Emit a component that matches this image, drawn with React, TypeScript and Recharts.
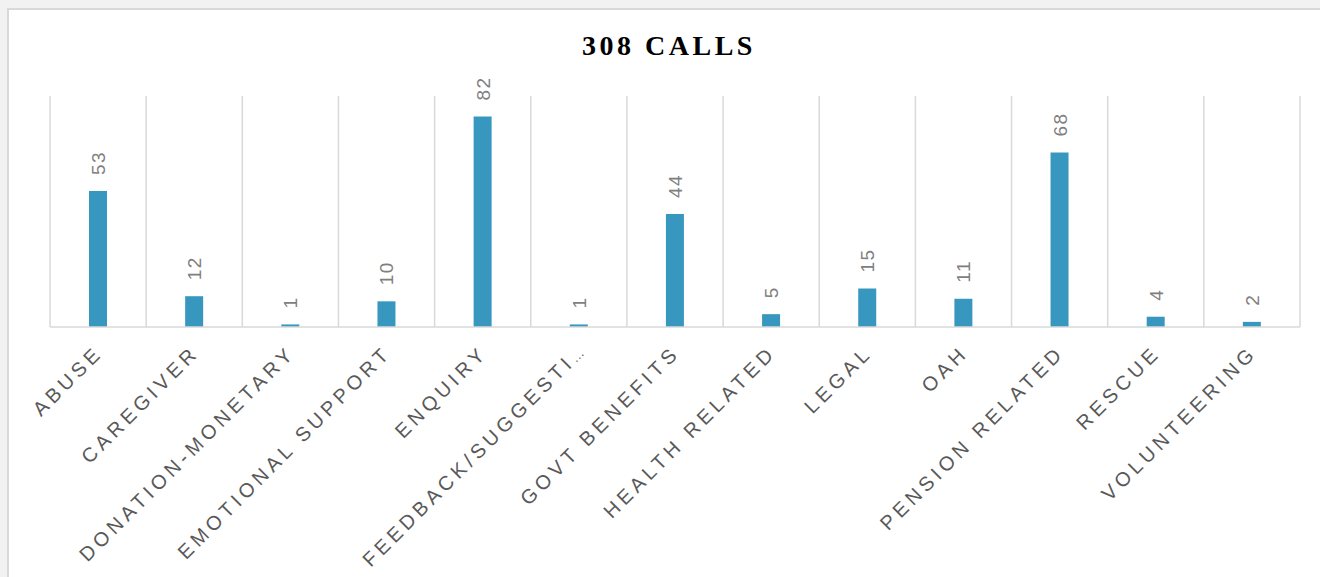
import { Bar, BarChart, CartesianGrid, LabelList, XAxis, YAxis } from 'recharts';

const CATEGORIES = [
  'ABUSE',
  'CAREGIVER',
  'DONATION-MONETARY',
  'EMOTIONAL SUPPORT',
  'ENQUIRY',
  'FEEDBACK/SUGGESTI…',
  'GOVT BENEFITS',
  'HEALTH RELATED',
  'LEGAL',
  'OAH',
  'PENSION RELATED',
  'RESCUE',
  'VOLUNTEERING',
];
const CALLS = [53, 12, 1, 10, 82, 1, 44, 5, 15, 11, 68, 4, 2];
const TITLE = '308 CALLS';

const BAR = '#3797be';
const GRID = '#d9d9d9';
const SANS = '"Liberation Sans", Arial, sans-serif';

const data = CATEGORIES.map((name, i) => ({ name, calls: CALLS[i] }));

function CategoryTick({ x, y, payload }: any) {
  const ax = x + 6;
  const ay = y + 19;
  const label: string = payload.value;
  // truncated labels: the ellipsis is drawn tight, without the letter spacing
  const cut = label.endsWith('…');
  return (
    <text
      x={ax}
      y={ay}
      transform={`rotate(-45 ${ax} ${ay})`}
      textAnchor="end"
      fill="#595959"
      fontSize={20}
      fontFamily={SANS}
      letterSpacing={4.3}
    >
      {cut ? label.slice(0, -1) : label}
      {cut && (
        <tspan fontSize={13} letterSpacing={0}>
          …
        </tspan>
      )}
    </text>
  );
}

function ValueLabel({ x, y, width, value }: any) {
  const lx = x + width / 2 + 7;
  const ly = y - 16;
  return (
    <text
      x={lx}
      y={ly}
      transform={`rotate(-90 ${lx} ${ly})`}
      fill="#7f7f7f"
      fontSize={19}
      fontFamily={SANS}
      letterSpacing={1.5}
    >
      {value}
    </text>
  );
}

export default function App() {
  return (
    <div style={{ position: 'fixed', left: 0, top: 0, width: 1320, height: 577, background: '#f2f2f2', overflow: 'hidden' }}>
      <div
        style={{
          position: 'absolute',
          left: 7,
          top: 8,
          width: 1340,
          height: 600,
          background: '#fff',
          border: `2px solid ${GRID}`,
        }}
      >
        <div
          style={{
            position: 'absolute',
            left: 0,
            top: 20,
            width: 1320,
            textAlign: 'center',
            fontFamily: '"Liberation Serif", "Times New Roman", serif',
            fontWeight: 'bold',
            fontSize: 28,
            letterSpacing: 3.5,
            color: '#000',
            lineHeight: '32px',
          }}
        >
          {TITLE}
        </div>
        <BarChart
          width={1311}
          height={567}
          data={data}
          margin={{ top: 86, right: 20, left: 41, bottom: 0 }}
          barCategoryGap={0}
        >
          <CartesianGrid
            horizontal={false}
            stroke={GRID}
            strokeWidth={1.5}
            verticalCoordinatesGenerator={({ offset }: any) =>
              CATEGORIES.map((_, i) => offset.left + (i * offset.width) / CATEGORIES.length).concat(
                offset.left + offset.width
              )
            }
          />
          <XAxis
            dataKey="name"
            interval={0}
            height={250}
            tickLine={false}
            axisLine={{ stroke: GRID, strokeWidth: 1.5 }}
            tick={<CategoryTick />}
          />
          <YAxis hide domain={[0, 90]} />
          <Bar dataKey="calls" fill={BAR} barSize={18} isAnimationActive={false}>
            <LabelList dataKey="calls" content={<ValueLabel />} />
          </Bar>
        </BarChart>
      </div>
    </div>
  );
}
